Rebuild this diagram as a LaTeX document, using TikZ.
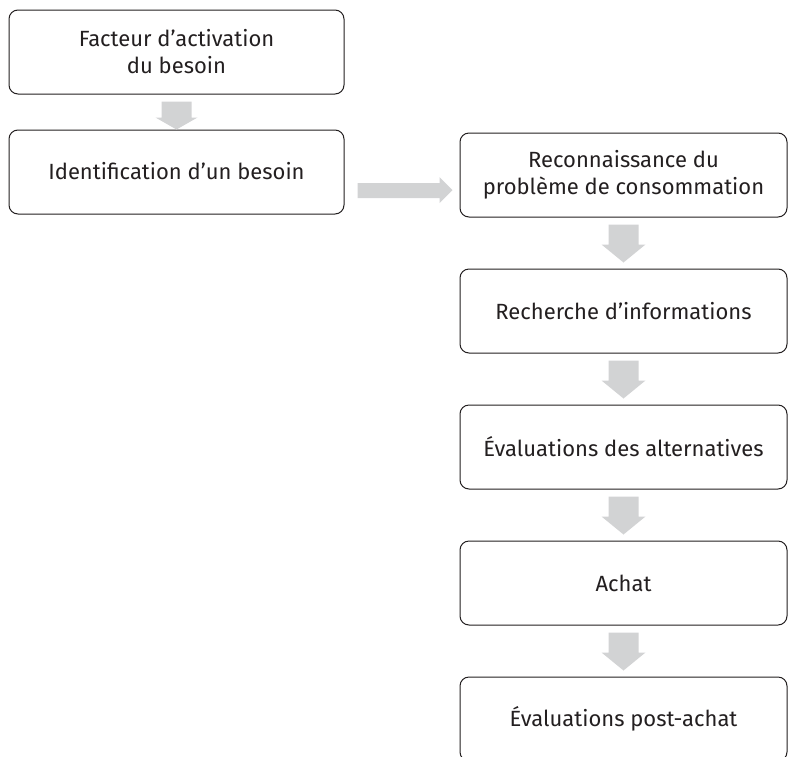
\documentclass[tikz,border=0pt]{standalone}
\usepackage{fontspec}
\setmainfont{Fira Sans}
\usetikzlibrary{calc}
\definecolor{arrowgray}{RGB}{210,211,212}
\definecolor{boxline}{RGB}{35,31,32}
\definecolor{txt}{RGB}{35,31,32}
\tikzset{
  stagebox/.style={draw=boxline, line width=1pt, rounded corners=9pt, fill=white,
    minimum height=84pt, align=center, inner sep=0pt, text=txt,
    font=\fontsize{22}{27}\selectfont},
  leftbox/.style={stagebox, minimum width=335pt},
  rightbox/.style={stagebox, minimum width=327pt},
  arrowfill/.style={fill=arrowgray, draw=none}
}
\newcommand\vflow[2]{%
  \fill[arrowfill] let \p1=(#1.south), \p2=(#2.north) in
    (\x1-15pt,\y1-7pt) -- (\x1+15pt,\y1-7pt) -- (\x1+15pt,\y2+24pt)
    -- (\x1+22pt,\y2+24pt) -- (\x1,\y2+6pt) -- (\x1-22pt,\y2+24pt)
    -- (\x1-15pt,\y2+24pt) -- cycle;}
\begin{document}
\begin{tikzpicture}[x=1pt,y=-1pt]
\useasboundingbox (0,0) rectangle (788,756);
\clip (0,0) rectangle (788,756);
\node[leftbox] (b1) at (176.5,52) {Facteur d’activation\\du besoin};
\node[leftbox] (b2) at (176.5,172) {\raisebox{3pt}{Identification d’un besoin}};
\node[rightbox] (b3) at (623.5,175) {Reconnaissance du\\problème de consommation};
\node[rightbox] (b4) at (623.5,311) {Recherche d’informations};
\node[rightbox] (b5) at (623.5,447) {Évaluations des alternatives};
\node[rightbox] (b6) at (623.5,583) {Achat};
\node[rightbox] (b7) at (623.5,719) {Évaluations post-achat};
\fill[arrowfill] let \p1=(b1.south), \p2=(b2.north) in
    (\x1-15pt,\y1-7pt) -- (\x1+15pt,\y1-7pt) -- (\x1+15pt,\y2+12pt)
    -- (\x1+21pt,\y2+12pt) -- (\x1,\y2) -- (\x1-21pt,\y2+12pt)
    -- (\x1-15pt,\y2+12pt) -- cycle;
\fill[arrowfill] let \p1=(b2.east), \p2=(b3.west) in
    (\x1+13pt,\y1-11pt) -- (\x2-20pt,\y1-11pt) -- (\x2-20pt,\y1-5pt)
    -- (\x2-7pt,\y1-18pt) -- (\x2-20pt,\y1-31pt) -- (\x2-20pt,\y1-26pt)
    -- (\x1+13pt,\y1-26pt) -- cycle;
\vflow{b3}{b4}
\vflow{b4}{b5}
\vflow{b5}{b6}
\vflow{b6}{b7}
\end{tikzpicture}
\end{document}
